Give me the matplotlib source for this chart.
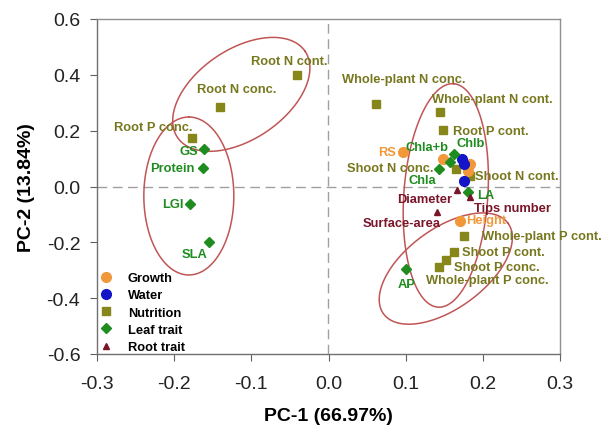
import numpy as np
import matplotlib
matplotlib.use('Agg')
import matplotlib.pyplot as plt
from matplotlib.lines import Line2D

plt.rcParams['font.family'] = ['Liberation Sans', 'DejaVu Sans']

# Colours per group
GROUP_COLORS = {
    'Growth': '#F0983A',
    'Water': '#1414C8',
    'Nutrition': '#86861A',
    'Leaf trait': '#1E8C1E',
    'Root trait': '#7A1428',
}
GROUP_MARKERS = {
    'Growth': 'o',
    'Water': 'o',
    'Nutrition': 's',
    'Leaf trait': 'D',
    'Root trait': '^',
}
TEXT_COLORS = {
    'Growth': '#F0983A',
    'Water': '#1414C8',
    'Nutrition': '#77771E',
    'Leaf trait': '#1E8C1E',
    'Root trait': '#7A1428',
}
MARKER_SIZES = {'o': 7, 's': 6, 'D': 5, '^': 5}

# Loadings: label, group, PC1, PC2
labels = ['Root N cont.', 'Root N conc.', 'Root P conc.', 'Whole-plant N conc.',
          'Whole-plant N cont.', 'Root P cont.', 'Shoot N conc.', 'Shoot N cont.',
          'Whole-plant P cont.', 'Shoot P cont.', 'Shoot P conc.', 'Whole-plant P conc.',
          'RS', 'Height', '', '', '',
          '', '', '',
          'GS', 'Protein', 'LGI', 'SLA', 'Chla+b', 'Chlb', 'Chla', 'LA', 'AP',
          'Diameter', 'Tips number', 'Surface-area']
groups = (['Nutrition'] * 12 + ['Growth'] * 5 + ['Water'] * 3
          + ['Leaf trait'] * 9 + ['Root trait'] * 3)
pc1 = [-0.041, -0.141, -0.177, 0.062, 0.144, 0.148, 0.165, 0.184, 0.176, 0.163, 0.152, 0.143,
       0.096, 0.170, 0.149, 0.183, 0.181,
       0.173, 0.176, 0.175,
       -0.161, -0.163, -0.179, -0.155, 0.157, 0.162, 0.143, 0.181, 0.101,
       0.166, 0.183, 0.141]
pc2 = [0.398, 0.283, 0.175, 0.297, 0.266, 0.204, 0.064, 0.036, -0.176, -0.233, -0.265, -0.287,
       0.125, -0.125, 0.100, 0.082, 0.057,
       0.097, 0.082, 0.018,
       0.133, 0.068, -0.061, -0.200, 0.086, 0.115, 0.061, -0.018, -0.294,
       -0.011, -0.036, -0.090]
# label placement: (ha, dx px, dy px)
label_pos = [('left', -46, 14), ('left', -23, 18), ('right', 1, 11), ('left', -34, 25),
             ('left', -8, 13), ('left', 10, -1), ('right', -22, 1), ('left', 5, 0),
             ('left', 18, 0), ('left', 8, 0), ('left', 8, -7), ('left', -13, -13),
             ('right', -7, 0), ('left', 6, 1), None, None, None,
             None, None, None,
             ('right', -6, -2), ('right', -8, 0), ('right', -7, 0), ('center', -14, -12),
             ('center', -23, 15), ('left', 3, 11), ('center', -17, -11), ('left', 9, -3),
             ('center', 0, -15),
             ('center', -32, -9), ('left', 4, -11), ('center', -36, -11)]

# Ellipses: centre (PC1, PC2), semi-axes in px, angle in degrees
ellipse_cx = [-0.113, -0.181, 0.152, 0.152]
ellipse_cy = [0.330, -0.034, -0.032, -0.294]
ellipse_a = [77, 79, 112, 77]
ellipse_b = [45, 45, 42, 40]
ellipse_ang = [34, 90, 86, 36]

W, H = 605, 427
fig = plt.figure(figsize=(W / 100, H / 100), dpi=100)
ax_left, ax_bottom = 97 / W, (H - 355) / H
ax_w, ax_h = (560 - 97) / W, (355 - 20) / H
ax = fig.add_axes([ax_left, ax_bottom, ax_w, ax_h])

xlim = (-0.3, 0.3)
ylim = (-0.6, 0.6)
px_x = ax_w * W / (xlim[1] - xlim[0])
px_y = ax_h * H / (ylim[1] - ylim[0])

ax.axhline(0, color='#A0A0A0', lw=1, ls=(0, (7, 4)), zorder=1)
ax.axvline(0, color='#A0A0A0', lw=1, ls=(0, (7, 4)), zorder=1)

# ellipses
t = np.linspace(0, 2 * np.pi, 300)
for cx, cy, a, b, ang in zip(ellipse_cx, ellipse_cy, ellipse_a, ellipse_b, ellipse_ang):
    th = np.deg2rad(ang)
    ex = a * np.cos(t) * np.cos(th) - b * np.sin(t) * np.sin(th)
    ey = a * np.cos(t) * np.sin(th) + b * np.sin(t) * np.cos(th)
    ax.plot(cx + ex / px_x, cy + ey / px_y, color='#C05555', lw=1.1, zorder=2)

for lab, g, x, y, pos in zip(labels, groups, pc1, pc2, label_pos):
    mk = GROUP_MARKERS[g]
    ax.plot(x, y, marker=mk, color=GROUP_COLORS[g], ms=MARKER_SIZES[mk], ls='none', zorder=3)
    if pos is not None:
        ha, dx, dy = pos
        ax.annotate(lab, (x, y), xytext=(dx, dy), textcoords='offset pixels',
                    ha=ha, va='center', fontsize=9.3, fontweight='bold',
                    color=TEXT_COLORS[g], zorder=4)

ax.set_xlim(*xlim)
ax.set_ylim(*ylim)
ax.set_xticks(np.arange(-0.3, 0.31, 0.1))
ax.set_yticks(np.arange(-0.6, 0.61, 0.2))
ax.set_xticklabels(['%.1f' % v for v in np.arange(-0.3, 0.31, 0.1)])
ax.set_yticklabels(['%.1f' % v for v in np.arange(-0.6, 0.61, 0.2)])
ax.tick_params(labelsize=14, direction='out', length=5, color='#606060', labelcolor='#222222')
ax.tick_params(axis='x', pad=10)
ax.tick_params(axis='y', pad=7)
for s in ax.spines.values():
    s.set_color('#707070')
    s.set_linewidth(1)
for s in ['top', 'right']:
    ax.spines[s].set_color('#909090')

ax.set_xlabel('PC-1 (66.97%)', fontsize=14, fontweight='bold', labelpad=11)
ax.set_ylabel('PC-2 (13.84%)', fontsize=14, fontweight='bold', labelpad=8)

handles = []
for g in ['Growth', 'Water', 'Nutrition', 'Leaf trait', 'Root trait']:
    mk = GROUP_MARKERS[g]
    handles.append(Line2D([], [], marker=mk, color=GROUP_COLORS[g],
                          ls='none', ms=MARKER_SIZES[mk], label=g))
leg = ax.legend(handles=handles, loc='lower left', bbox_to_anchor=(0.0, -0.005),
                frameon=False, prop={'weight': 'bold', 'size': 9.3},
                handletextpad=1.2, labelspacing=0.4, borderaxespad=0,
                borderpad=0.2, handlelength=1)

fig.savefig('out.png', dpi=100)
